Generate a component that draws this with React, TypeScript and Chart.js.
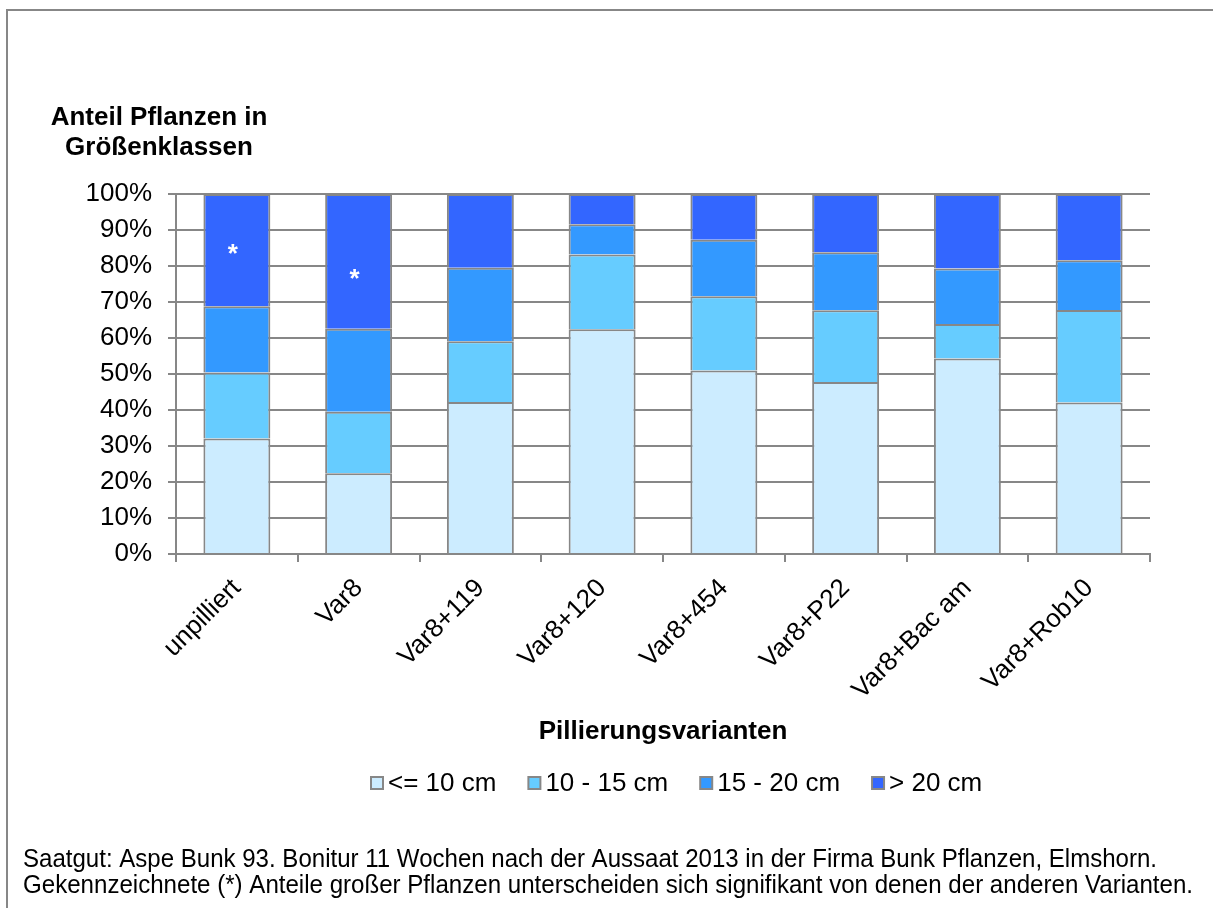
import React, { useEffect, useRef } from "react";
import { Chart, registerables } from "chart.js";

Chart.register(...registerables);

const categories = ["unpilliert", "Var8", "Var8+119", "Var8+120", "Var8+454", "Var8+P22", "Var8+Bac am", "Var8+Rob10"];
const seriesLabels = ["<= 10 cm", "10 - 15 cm", "15 - 20 cm", "> 20 cm"];
const upTo10 = [32.1, 22.4, 42.2, 62.4, 51.0, 47.8, 54.3, 42.1];
const from10to15 = [18.3, 17.1, 16.9, 20.8, 20.6, 19.9, 9.6, 25.7];
const from15to20 = [18.4, 23.1, 20.4, 8.4, 15.7, 16.1, 15.4, 13.8];
const over20 = [31.2, 37.4, 20.5, 8.4, 12.7, 16.2, 20.7, 18.4];
const seriesColors = ["#CCECFF", "#66CCFF", "#3399FF", "#3366FF"];
const significanceMarks = ["*", "*", "", "", "", "", "", ""];
const significanceAt = [84.8, 77.8, 0, 0, 0, 0, 0, 0];
const yTitleLines = ["Anteil Pflanzen in", "Größenklassen"];
const xTitle = "Pillierungsvarianten";
const footnoteLines = [
  "Saatgut: Aspe Bunk 93. Bonitur 11 Wochen nach der Aussaat 2013 in der Firma Bunk Pflanzen, Elmshorn.",
  "Gekennzeichnete (*) Anteile großer Pflanzen unterscheiden sich signifikant von denen der anderen Varianten.",
];

const FONT = '"Liberation Sans", Arial, sans-serif';
const GRAY = "#878787";

const W = 1213;
const H = 908;
const PLOT_LEFT = 176;
const PLOT_RIGHT = 1150;
const PLOT_TOP = 194;
const PLOT_BOTTOM = 554;

const extrasPlugin = {
  id: "extras",
  afterDraw(chart: any) {
    const ctx = chart.ctx as CanvasRenderingContext2D;
    ctx.save();
    // outer frame (left and top edges visible)
    ctx.strokeStyle = GRAY;
    ctx.lineWidth = 2;
    ctx.beginPath();
    ctx.moveTo(7, H + 5);
    ctx.lineTo(7, 10);
    ctx.lineTo(W + 5, 10);
    ctx.stroke();

    // y title
    ctx.fillStyle = "#000";
    ctx.textAlign = "center";
    ctx.textBaseline = "alphabetic";
    ctx.font = `bold 26px ${FONT}`;
    ctx.fillText(yTitleLines[0], 159, 125);
    ctx.fillText(yTitleLines[1], 159, 155);

    // x title
    ctx.fillText(xTitle, 663, 739);

    // legend
    ctx.font = `26px ${FONT}`;
    ctx.textAlign = "left";
    let x = 370;
    chart.data.datasets.forEach((ds: any) => {
      ctx.fillStyle = ds.backgroundColor;
      ctx.fillRect(x + 1, 777, 12, 12);
      ctx.strokeStyle = GRAY;
      ctx.lineWidth = 2;
      ctx.strokeRect(x + 1, 777, 12, 12);
      ctx.fillStyle = "#000";
      const tx = x + 18;
      ctx.fillText(ds.label, tx, 790.5);
      x = tx + ctx.measureText(ds.label).width + 31;
    });

    // footnote
    ctx.font = `25px ${FONT}`;
    ctx.fillText(footnoteLines[0], 23, 867, 1134);
    ctx.fillText(footnoteLines[1], 23, 893, 1170);

    // significance marks
    const xs = chart.scales.x;
    const ys = chart.scales.y;
    ctx.fillStyle = "#fff";
    ctx.textAlign = "center";
    ctx.textBaseline = "middle";
    ctx.font = `bold 26px ${FONT}`;
    significanceMarks.forEach((m, i) => {
      if (!m) return;
      const px = xs.getPixelForValue(i) - 4;
      const py = ys.getPixelForValue(significanceAt[i]);
      ctx.fillText(m, px, py + 6);
    });
    ctx.restore();
  },
};

export default function App() {
  const ref = useRef<HTMLCanvasElement | null>(null);
  useEffect(() => {
    if (!ref.current) return;
    const data = [upTo10, from10to15, from15to20, over20];
    const chart = new Chart(ref.current, {
      type: "bar",
      data: {
        labels: categories,
        datasets: seriesLabels.map((label, i) => ({
          label,
          data: data[i],
          backgroundColor: seriesColors[i],
          borderColor: GRAY,
          borderWidth: 2,
          borderSkipped: "start",
          barPercentage: 0.55,
          categoryPercentage: 1,
        })),
      },
      options: {
        responsive: false,
        animation: false,
        devicePixelRatio: 1,
        layout: { padding: { left: 0, top: PLOT_TOP, right: W - PLOT_RIGHT, bottom: 0 } },
        plugins: { legend: { display: false }, tooltip: { enabled: false }, title: { display: false } },
        scales: {
          x: {
            stacked: true,
            afterFit: (s: any) => {
              s.height = H - PLOT_BOTTOM;
            },
            grid: {
              offset: true,
              drawOnChartArea: false,
              drawTicks: true,
              tickLength: 8,
              color: GRAY,
              lineWidth: 2,
            },
            border: { display: true, color: GRAY, width: 2 },
            ticks: {
              autoSkip: false,
              minRotation: 45,
              maxRotation: 45,
              color: "#000",
              padding: 11,
              font: { family: FONT, size: 26 },
            },
          },
          y: {
            stacked: true,
            min: 0,
            max: 100,
            afterFit: (s: any) => {
              s.width = PLOT_LEFT;
            },
            grid: { color: GRAY, lineWidth: 2, tickLength: 8, drawTicks: true },
            border: { display: true, color: GRAY, width: 2 },
            ticks: {
              stepSize: 10,
              color: "#000",
              padding: 16,
              font: { family: FONT, size: 26 },
              callback: (v: any) => `${v}%`,
            },
          },
        },
      },
      plugins: [extrasPlugin],
    });
    return () => chart.destroy();
  }, []);

  return (
    <div style={{ position: "fixed", left: 0, top: 0, width: W, height: H, overflow: "hidden", background: "#fff" }}>
      <canvas ref={ref} width={W} height={H} style={{ display: "block", width: W, height: H }} />
    </div>
  );
}
